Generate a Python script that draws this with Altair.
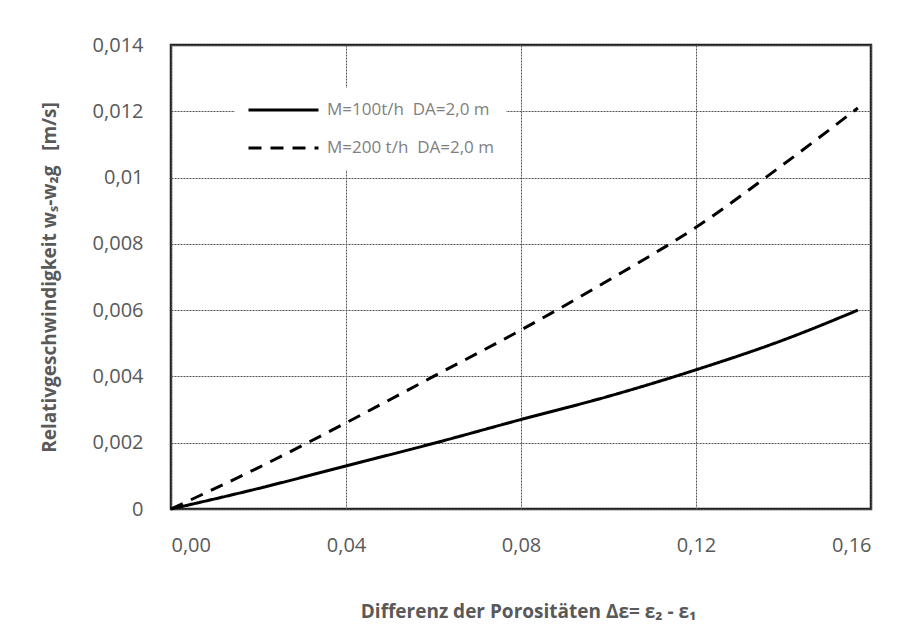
import altair as alt
import pandas as pd

# data
x_vals = [0.0, 0.02, 0.04, 0.06, 0.08, 0.10, 0.12, 0.14, 0.157]
y_100 = [0.0, 0.00062, 0.0013, 0.00198, 0.0027, 0.0034, 0.0042, 0.0051, 0.0060]
y_200 = [0.0, 0.00125, 0.0026, 0.0040, 0.0054, 0.0069, 0.0085, 0.0104, 0.0121]
series_names = ["M=100t/h \u00a0DA=2,0 m", "M=200 t/h \u00a0DA=2,0 m"]
x_ticks = [0.0, 0.04, 0.08, 0.12, 0.16]
y_ticks = [0.0, 0.002, 0.004, 0.006, 0.008, 0.010, 0.012, 0.014]

rows = []
for name, ys in zip(series_names, [y_100, y_200]):
    for xv, yv in zip(x_vals, ys):
        rows.append({"x": xv, "y": yv, "serie": name})
df = pd.DataFrame(rows)

FONT = "Open Sans"
GRAY = "#595959"

chart = alt.Chart(df).mark_line(color="black", strokeWidth=3, interpolate="monotone").encode(
    x=alt.X("x:Q",
            scale=alt.Scale(domain=[0, 0.16], nice=False),
            axis=alt.Axis(values=x_ticks,
                          labelExpr="replace(format(datum.value, '.2f'), '.', ',')",
                          title="Differenz der Porositäten Δε= ε₂ - ε₁",
                          titleX=357, titleY=102, titleBaseline="middle",
                          labelPadding=26)),
    y=alt.Y("y:Q",
            scale=alt.Scale(domain=[0, 0.014], nice=False),
            axis=alt.Axis(values=y_ticks,
                          labelExpr="replace(toString(round(datum.value*1000)/1000), '.', ',')",
                          title="Relativgeschwindigkeit wₛ-w₂g \u00a0 [m/s]",
                          titleX=-122, titleY=232, titleBaseline="middle",
                          titleAngle=-90,
                          labelPadding=28)),
    strokeDash=alt.StrokeDash("serie:N",
                              scale=alt.Scale(domain=series_names, range=[[1, 0], [13, 9]]),
                              legend=alt.Legend(title=None, orient="none",
                                                legendX=64, legendY=43,
                                                symbolType="stroke",
                                                symbolSize=4900,
                                                symbolStrokeWidth=3,
                                                symbolStrokeColor="black",
                                                clipHeight=20,
                                                labelFont=FONT, labelFontSize=17,
                                                labelColor="#7f7f7f",
                                                labelOffset=7,
                                                labelLimit=0,
                                                rowPadding=18,
                                                padding=12,
                                                fillColor="white")),
    order=alt.Order("x:Q"),
).properties(
    width=700, height=464,
    autosize=alt.AutoSizeParams(type="none"),
    padding={"left": 163, "top": 37, "right": 23, "bottom": 126},
).configure_view(
    stroke="#222222", strokeWidth=2.5
).configure_axis(
    domain=False, ticks=False,
    grid=True, gridColor="#555555", gridDash=[2, 1], gridWidth=1,
    labelFont=FONT, labelFontSize=20, labelColor=GRAY,
    titleFont=FONT, titleFontSize=19, titleFontWeight="bold", titleColor=GRAY,
)

chart.save("out.html", embed_options={"renderer": "svg", "actions": False})
